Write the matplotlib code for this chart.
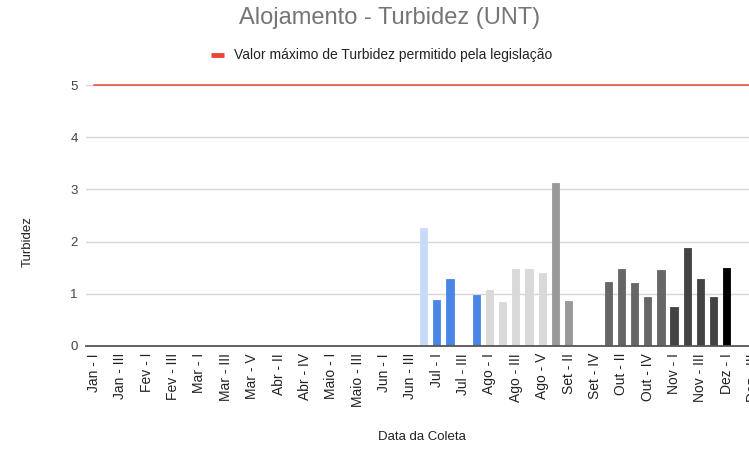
import matplotlib
matplotlib.use("Agg")
import matplotlib.pyplot as plt
import numpy as np
from matplotlib.lines import Line2D

plt.rcParams['font.family'] = ['Liberation Sans', 'DejaVu Sans']

# ---- data ----
months = ["Jan", "Fev", "Mar", "Abr", "Maio", "Jun", "Jul", "Ago", "Set", "Out", "Nov", "Dez"]
weeks_per_month = [4, 4, 5, 5, 4, 4, 4, 5, 4, 5, 4, 4]
roman = ["I", "II", "III", "IV", "V"]
categories = [f"{m} - {roman[i]}" for m, n in zip(months, weeks_per_month) for i in range(n)]

N = None
turbidez = [
    N, N, N, N,            # Jan
    N, N, N, N,            # Fev
    N, N, N, N, N,         # Mar
    N, N, N, N, N,         # Abr
    N, N, N, N,            # Maio
    N, N, N, 2.27,         # Jun
    0.89, 1.28, N, 0.98,   # Jul
    1.07, 0.84, 1.47, 1.47, 1.39,  # Ago
    3.12, 0.87, N, N,      # Set
    1.23, 1.47, 1.20, 0.94, 1.46,  # Out
    0.74, 1.88, 1.28, 0.94,        # Nov
    1.49, N, N, N,         # Dez
]
bar_colors = (
    ["#c9daf8"] * 26 +     # up to Jun
    ["#4a86e8"] * 4 +      # Jul
    ["#d9d9d9"] * 5 +      # Ago
    ["#999999"] * 4 +      # Set
    ["#666666"] * 5 +      # Out
    ["#434343"] * 4 +      # Nov
    ["#000000"] * 4        # Dez
)
limite = [5] * len(categories)

title = "Alojamento - Turbidez (UNT)"
legend_label = "Valor máximo de Turbidez permitido pela legislação"
xlabel = "Data da Coleta"
ylabel = "Turbidez"

# ---- figure ----
W, H = 749, 449
fig = plt.figure(figsize=(W / 100, H / 100), dpi=100)
left_px, right_px = 86, 86 + 687
bottom_px, top_px = 346, 85
ax = fig.add_axes([left_px / W, (H - bottom_px) / H,
                   (right_px - left_px) / W, (bottom_px - top_px) / H])

x = np.arange(len(categories))
vals = np.array([np.nan if v is None else v for v in turbidez], dtype=float)
ax.bar(x, np.nan_to_num(vals), width=0.55, color=bar_colors,
       edgecolor=bar_colors, linewidth=0.6, joinstyle="round", zorder=3)
ax.plot(x, limite, color="#e8453c", lw=1.1, zorder=4, clip_on=False)

ax.set_xlim(-0.6, len(categories) - 0.5)
ax.set_ylim(0, 5)
ax.set_yticks(range(0, 6))
ax.grid(axis="y", color="#d6d6d6", lw=1, zorder=0)
ax.set_axisbelow(True)
for s in ["top", "right", "left"]:
    ax.spines[s].set_visible(False)
ax.spines["bottom"].set_color("#555555")
ax.spines["bottom"].set_linewidth(1.3)
ax.spines["bottom"].set_zorder(5)

ax.set_xticks(x[::2])
ax.set_xticklabels(categories[::2], rotation=90, fontsize=10, color="#222222")
ax.tick_params(axis="x", length=0, pad=5)
ax.tick_params(axis="y", length=0, pad=6, labelsize=9.5, labelcolor="#444444")

fig.text(422 / W, 1 - 437 / H, xlabel, ha="center", va="center", fontsize=9.5, color="#222222")
fig.text(28 / W, 1 - 242 / H, ylabel, ha="center", va="center", rotation=90,
         fontsize=9.5, color="#222222")
fig.text(390 / W, 1 - 18 / H, title, ha="center", va="center", fontsize=17, color="#757575")

# legend
fig.add_artist(Line2D([211 / W, 224 / W], [1 - 55 / H] * 2, color="#e8453c", lw=3.5,
                      solid_capstyle="butt"))
fig.text(234 / W, 1 - 55 / H, legend_label, ha="left", va="center", fontsize=10,
         color="#222222")

fig.savefig("out.png", dpi=100)
